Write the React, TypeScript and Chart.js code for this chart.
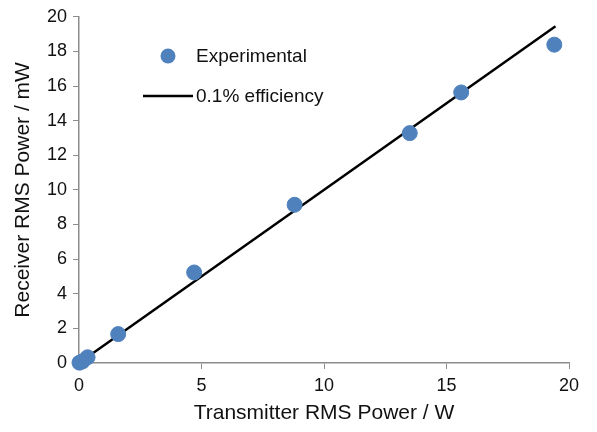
import React, { useEffect, useRef } from "react";
import { Chart, registerables } from "chart.js";

Chart.register(...registerables);

const expX = [0.02, 0.15, 0.35, 1.6, 4.7, 8.8, 13.5, 15.6, 19.4];
const expY = [0.02, 0.1, 0.33, 1.67, 5.23, 9.14, 13.28, 15.63, 18.39];
const fitX = [0, 19.45];
const fitY = [0, 19.45];
const xTicks = [0, 5, 10, 15, 20];
const yTicks = [0, 2, 4, 6, 8, 10, 12, 14, 16, 18, 20];
const legendLabels = ["Experimental", "0.1% efficiency"];

const FONT = "'Liberation Sans', Arial, sans-serif";
const BLUE = "#4F81BD";
const AXIS = "#8c8c8c";

export default function App() {
  const ref = useRef<HTMLCanvasElement>(null);
  useEffect(() => {
    document.body.style.margin = "0";
    const legendPlugin = {
      id: "customLegend",
      afterDraw(chart: any) {
        const ctx = chart.ctx;
        ctx.save();
        ctx.font = `19px ${FONT}`;
        ctx.textBaseline = "middle";
        ctx.beginPath();
        ctx.arc(168, 56, 7.5, 0, Math.PI * 2);
        ctx.fillStyle = BLUE;
        ctx.fill();
        ctx.fillStyle = "#111";
        ctx.fillText(legendLabels[0], 196, 57);
        ctx.strokeStyle = "#000";
        ctx.lineWidth = 2.5;
        ctx.beginPath();
        ctx.moveTo(143, 96);
        ctx.lineTo(193, 96);
        ctx.stroke();
        ctx.fillText(legendLabels[1], 196, 97);
        ctx.restore();
      },
    };
    const chart = new Chart(ref.current!, {
      type: "scatter",
      data: {
        datasets: [
          {
            label: legendLabels[1],
            type: "line",
            data: fitX.map((x, i) => ({ x, y: fitY[i] })),
            borderColor: "#000",
            borderWidth: 2.5,
            pointRadius: 0,
            fill: false,
            clip: false,
            order: 2,
          } as any,
          {
            label: legendLabels[0],
            data: expX.map((x, i) => ({ x, y: expY[i] })),
            backgroundColor: BLUE,
            borderColor: BLUE,
            pointRadius: 7.5,
            pointHoverRadius: 7.5,
            clip: false,
            order: 1,
          } as any,
        ],
      },
      options: {
        animation: false,
        responsive: false,
        events: [],
        layout: { padding: { left: 0, right: 28, top: 15, bottom: 0 } },
        plugins: { legend: { display: false }, tooltip: { enabled: false } },
        scales: {
          x: {
            type: "linear",
            min: 0,
            max: 20,
            afterBuildTicks: (s: any) => {
              s.ticks = xTicks.map((v) => ({ value: v }));
            },
            afterFit: (s: any) => {
              s.height = 69;
            },
            border: { color: AXIS, width: 1.5 },
            grid: { drawOnChartArea: false, tickLength: 6, color: AXIS, tickColor: AXIS },
            ticks: { color: "#111", font: { family: FONT, size: 18 }, padding: 6 },
            title: {
              display: true,
              text: "Transmitter RMS Power / W",
              color: "#111",
              font: { family: FONT, size: 21 },
              padding: { top: 0, bottom: 6 },
            },
          },
          y: {
            type: "linear",
            min: 0,
            max: 20,
            afterBuildTicks: (s: any) => {
              s.ticks = yTicks.map((v) => ({ value: v }));
            },
            afterFit: (s: any) => {
              s.width = 79;
            },
            border: { color: AXIS, width: 1.5 },
            grid: { drawOnChartArea: false, tickLength: 6, color: AXIS, tickColor: AXIS },
            ticks: { color: "#111", font: { family: FONT, size: 18 }, padding: 6 },
            title: {
              display: true,
              text: "Receiver RMS Power / mW",
              color: "#111",
              font: { family: FONT, size: 21 },
              padding: { top: 11, bottom: 0 },
            },
          },
        },
      },
      plugins: [legendPlugin],
    });
    return () => chart.destroy();
  }, []);
  return <canvas ref={ref} width={597} height={432} style={{ display: "block" }} />;
}
